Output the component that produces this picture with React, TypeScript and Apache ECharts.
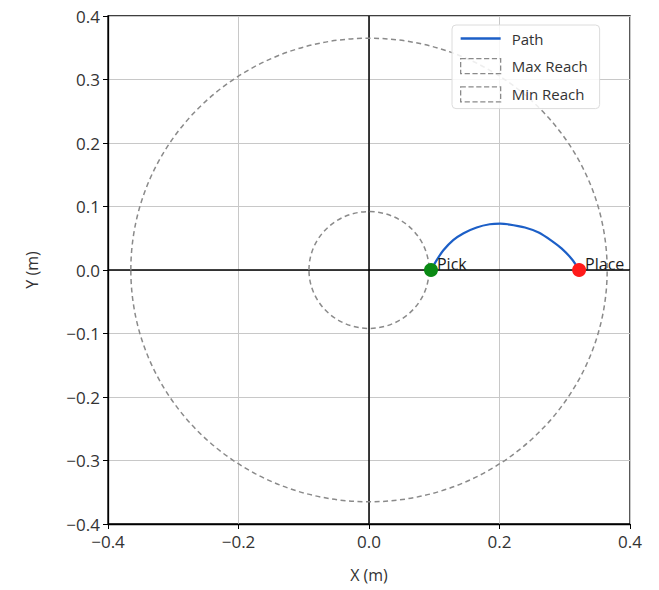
import React, { useEffect, useRef } from "react";
import * as echarts from "echarts";

const pathX = [0.095, 0.104, 0.114, 0.129, 0.145, 0.165, 0.185, 0.201, 0.213, 0.239, 0.260, 0.280, 0.295, 0.311, 0.322];
const pathY = [0.0, 0.016, 0.031, 0.047, 0.058, 0.067, 0.072, 0.073, 0.072, 0.067, 0.059, 0.046, 0.034, 0.017, 0.0];
const pickPoint = [0.095, 0.0];
const placePoint = [0.322, 0.0];
const maxReachRadius = 0.365;
const minReachRadius = 0.092;
const legendNames = ["Path", "Max Reach", "Min Reach"];

const FONT = "'Open Sans', Roboto, sans-serif";

function fmt(v: number) {
  const s = Math.abs(v) < 1e-9 ? "0.0" : v.toFixed(1);
  return s.replace("-", "\u2212");
}

export default function App() {
  const ref = useRef<HTMLDivElement>(null);
  useEffect(() => {
    if (!ref.current) return;
    const chart = echarts.init(ref.current, undefined, { renderer: "svg" });
    const circleRender = (params: any, api: any) => {
      const c = api.coord([api.value(0), api.value(1)]);
      const s = api.size([api.value(2), api.value(2)]);
      return {
        type: "ellipse",
        shape: { cx: c[0], cy: c[1], rx: s[0], ry: s[1] },
        style: { fill: "none", stroke: "#8a8a8a", lineWidth: 1.5, lineDash: [5, 3.5] },
      };
    };
    const axisCommon = {
      type: "value" as const,
      min: -0.4,
      max: 0.4,
      axisLine: { show: true, onZero: false, lineStyle: { color: "#000", width: 1.3 } },
      axisTick: { show: true, length: 5, lineStyle: { color: "#000", width: 1 } },
      splitLine: { show: true, lineStyle: { color: "#c8c8c8", width: 1 } },
      axisLabel: { color: "#333", fontSize: 17, fontFamily: FONT, formatter: (v: number) => fmt(v) },
      nameLocation: "middle" as const,
      nameTextStyle: { color: "#333", fontSize: 16, fontFamily: FONT },
    };
    const dashedIcon = {
      icon: "rect",
      itemStyle: { color: "rgba(0,0,0,0)", borderColor: "#8a8a8a", borderWidth: 1.3, borderType: "dashed" },
    };
    chart.setOption({
      animation: false,
      textStyle: { fontFamily: FONT },
      grid: {
        left: 108,
        right: 29,
        top: 16,
        bottom: 66,
        show: true,
        borderColor: "#000",
        borderWidth: 1.3,
        backgroundColor: "transparent",
      },
      xAxis: {
        ...axisCommon,
        interval: 0.2,
        name: "X (m)",
        nameGap: 43,
        axisLabel: { ...axisCommon.axisLabel, margin: 9 },
      },
      yAxis: {
        ...axisCommon,
        interval: 0.1,
        name: "Y (m)",
        nameGap: 68,
        axisLabel: { ...axisCommon.axisLabel, margin: 8 },
      },
      legend: {
        data: [
          {
            name: legendNames[0],
            icon: "path://M0,0 H40 V2.4 H0 Z",
            itemStyle: { color: "#1c5fc7" },
          },
          { name: legendNames[1], ...dashedIcon },
          { name: legendNames[2], ...dashedIcon },
        ],
        orient: "vertical",
        left: 452,
        top: 25,
        padding: [6, 12, 6, 8],
        itemWidth: 40,
        itemHeight: 15,
        itemGap: 12,
        backgroundColor: "rgba(255,255,255,0.85)",
        borderColor: "#dcdcdc",
        borderWidth: 1,
        borderRadius: 4,
        selectedMode: false,
        textStyle: { fontSize: 15, color: "#333", fontFamily: FONT, padding: [0, 0, 0, 6] },
      },
      series: [
        {
          name: legendNames[1],
          type: "custom",
          renderItem: circleRender,
          data: [[0, 0, maxReachRadius]],
          silent: true,
          z: 3,
          itemStyle: { color: "#8a8a8a" },
        },
        {
          name: legendNames[2],
          type: "custom",
          renderItem: circleRender,
          data: [[0, 0, minReachRadius]],
          silent: true,
          z: 3,
          itemStyle: { color: "#8a8a8a" },
        },
        {
          name: legendNames[0],
          type: "line",
          data: pathX.map((x, i) => [x, pathY[i]]),
          smooth: 0.3,
          symbol: "none",
          showSymbol: false,
          lineStyle: { color: "#1c5fc7", width: 2.2 },
          itemStyle: { color: "#1c5fc7" },
          z: 4,
          markLine: {
            silent: true,
            symbol: ["none", "none"],
            label: { show: false },
            lineStyle: { color: "#000", type: "solid", width: 1.5 },
            data: [{ xAxis: 0 }, { yAxis: 0 }],
            z: 2,
          },
        },
        {
          name: "Pick",
          type: "scatter",
          data: [pickPoint],
          symbolSize: 14,
          itemStyle: { color: "#0a8a14", opacity: 1 },
          z: 5,
          label: {
            show: true,
            position: "right",
            offset: [-6, -6],
            formatter: "Pick",
            color: "#1a1a1a",
            fontSize: 16,
            fontFamily: FONT,
          },
        },
        {
          name: "Place",
          type: "scatter",
          data: [placePoint],
          symbolSize: 14,
          itemStyle: { color: "#ff1a1a", opacity: 1 },
          z: 5,
          label: {
            show: true,
            position: "right",
            offset: [-6, -6],
            formatter: "Place",
            color: "#1a1a1a",
            fontSize: 16,
            fontFamily: FONT,
          },
        },
      ],
    });
    return () => chart.dispose();
  }, []);
  return (
    <div
      ref={ref}
      style={{ position: "fixed", left: 0, top: 0, width: 659, height: 590, background: "#fff" }}
    />
  );
}
